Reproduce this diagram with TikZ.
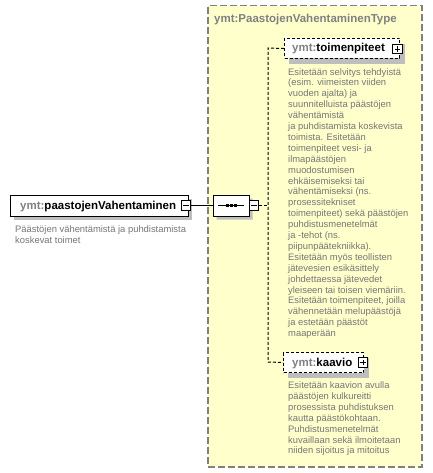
\documentclass[tikz,border=0pt]{standalone}
\usepackage{fontspec}
\setmainfont{Liberation Sans}
\usetikzlibrary{shapes.misc}
\definecolor{yfill}{RGB}{255,255,204}
\definecolor{tgray}{RGB}{128,128,128}
\definecolor{shadowc}{RGB}{190,190,190}
\definecolor{anncol}{RGB}{118,118,118}
\begin{document}
\begin{tikzpicture}[x=1pt,y=-1pt,
  ann/.style={font=\fontsize{9.4}{10.9}\selectfont, text=anncol, align=left, anchor=north west, inner sep=0pt},
  head/.style={font=\fontsize{11.5}{14}\selectfont\bfseries, inner sep=0pt, anchor=base west},
  shadbox/.style={fill=shadowc, draw=none, inner sep=0pt, anchor=north west},
  elembox/.style={draw=black, fill=white, line width=1pt, inner sep=0pt, anchor=north west},
  optbox/.style={draw=black, fill=white, line width=1pt, dash pattern=on 3pt off 2pt, inner sep=0pt, anchor=north west},
  pmbox/.style={draw=black, fill=white, line width=0.8pt, minimum size=9.5pt, inner sep=0pt},
  minusbox/.style={pmbox, path picture={\draw[line width=0.8pt] ([xshift=2pt]path picture bounding box.west) -- ([xshift=-2pt]path picture bounding box.east);}},
  plusbox/.style={pmbox, path picture={\draw[line width=0.8pt] ([xshift=2pt]path picture bounding box.west) -- ([xshift=-2pt]path picture bounding box.east) ([yshift=-2pt]path picture bounding box.north) -- ([yshift=2pt]path picture bounding box.south);}},
  octo/.style={chamfered rectangle, chamfered rectangle xsep=5pt, chamfered rectangle ysep=5pt,
      minimum width=36pt, minimum height=21pt, inner sep=0pt},
  conn/.style={draw=black, line width=1pt, dash pattern=on 3pt off 2pt},
]
\useasboundingbox (0,0) rectangle (432,473);
\fill[white] (0,0) rectangle (432,473);

% complex type box
\node[draw=tgray, fill=yfill, dash pattern=on 7pt off 3pt, line width=1.5pt,
      minimum width=214pt, minimum height=461pt, inner sep=0pt, anchor=north west] (typebox) at (207,5) {};
\node[head, text=tgray] (typetitle) at (214,23) {ymt:PaastojenVahentaminenType};

% main element
\node[shadbox, minimum width=178pt, minimum height=21pt] (mainshadow) at (14,198.5) {};
\node[elembox, minimum width=178pt, minimum height=21pt] (main) at (10,195) {};
\node[head] (maintext) at (20,209) {\textcolor{tgray}{ymt:}paastojenVahentaminen};
\node[minusbox] (mainminus) at (186,205.5) {};
\node[ann] (mainann) at (15,225.5) {Päästöjen vähentämistä ja puhdistamista\\koskevat toimet};

% sequence compositor
\node[octo, fill=shadowc] (seqshadow) at (234.5,209) {};
\node[octo, draw=black, fill=white, line width=1pt] (seq) at (231,205.5) {};
\draw[line width=1pt] ([xshift=-13pt]seq.center) -- ([xshift=13pt]seq.center);
\foreach \dx in {-4,0,4}{
  \fill[black] ([xshift=\dx pt-1.5pt, yshift=-1.5pt]seq.center) rectangle ([xshift=\dx pt+1.5pt, yshift=1.5pt]seq.center);
}
\node[minusbox] (seqminus) at (254,205.5) {};

% connectors
\draw[line width=1pt] (mainminus.east) -- (seq.west);
\coordinate (busM) at (268,205.5);
\coordinate (busT) at (268,48);
\coordinate (busB) at (268,362);
\draw[conn] (seqminus.east) -- (busM);

% child: toimenpiteet
\node[shadbox, minimum width=116pt, minimum height=20pt] (toimshadow) at (289,44) {};
\node[optbox, minimum width=115pt, minimum height=20pt] (toim) at (284,38) {};
\node[head] (toimtext) at (292,52) {\textcolor{tgray}{ymt:}toimenpiteet};
\node[plusbox] (toimplus) at (397.5,49) {};
\node[ann] (toimann) at (288,68) {Esitetään selvitys tehdyistä\\(esim. viimeisten viiden\\vuoden ajalta) ja\\suunnitelluista päästöjen\\vähentämistä\\ja puhdistamista koskevista\\toimista. Esitetään\\toimenpiteet vesi- ja\\ilmapäästöjen\\muodostumisen\\ehkäisemiseksi tai\\vähentämiseksi (ns.\\prosessitekniset\\toimenpiteet) sekä päästöjen\\puhdistusmenetelmät\\ja -tehot (ns.\\piipunpäätekniikka).\\Esitetään myös teollisten\\jätevesien esikäsittely\\johdettaessa jätevedet\\yleiseen tai toisen viemäriin.\\Esitetään toimenpiteet, joilla\\vähennetään melupäästöjä\\ja estetään päästöt\\maaperään};

% child: kaavio
\node[shadbox, minimum width=81pt, minimum height=20pt] (kaavioshadow) at (288,358) {};
\node[optbox, minimum width=80pt, minimum height=20pt] (kaavio) at (283,352) {};
\node[head] (kaaviotext) at (292,366) {\textcolor{tgray}{ymt:}kaavio};
\node[plusbox] (kaavioplus) at (363,362.5) {};
\node[ann] (kaavioann) at (288,381.5) {Esitetään kaavion avulla\\päästöjen kulkureitti\\prosessista puhdistuksen\\kautta päästökohtaan.\\Puhdistusmenetelmät\\kuvaillaan sekä ilmoitetaan\\niiden sijoitus ja mitoitus};

\draw[conn] (toim.west) -- (busT) -- (busB) -- (kaavio.west);
\end{tikzpicture}
\end{document}
